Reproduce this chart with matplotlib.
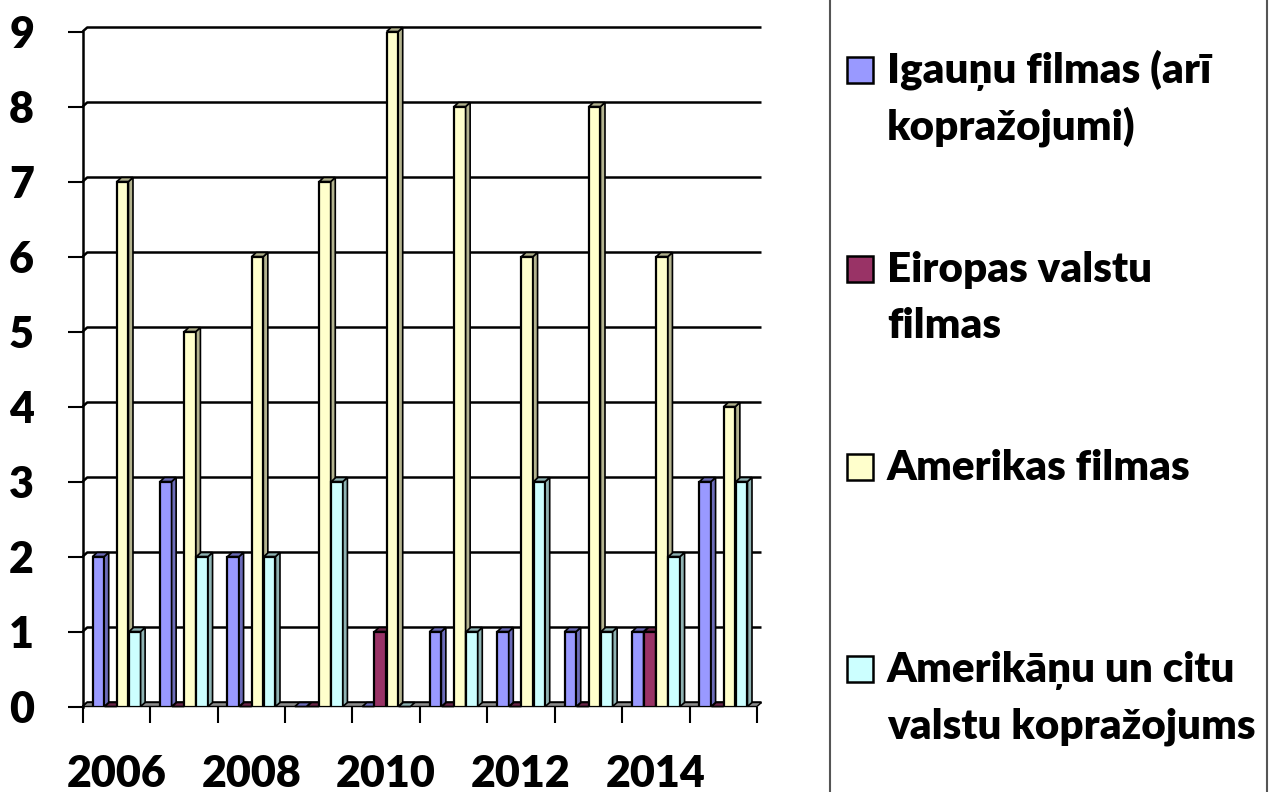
import matplotlib
matplotlib.use('Agg')
import matplotlib.pyplot as plt
from matplotlib.patches import Polygon, Rectangle
import numpy as np

plt.rcParams['font.family'] = ['Lato', 'DejaVu Sans']
plt.rcParams['font.weight'] = 'bold'

years = [2006, 2007, 2008, 2009, 2010, 2011, 2012, 2013, 2014, 2015]
igaunu = [2, 3, 2, 0, 0, 1, 1, 1, 1, 3]
eiropas = [0, 0, 0, 0, 1, 0, 0, 0, 1, 0]
amerikas = [7, 5, 6, 7, 9, 8, 6, 8, 6, 4]
amerikanu_citu = [1, 2, 2, 3, 0, 1, 3, 1, 2, 3]
series = [igaunu, eiropas, amerikas, amerikanu_citu]
legend_lines = [["Igauņu filmas (arī", "kopražojumi)"],
                ["Eiropas valstu", "filmas"],
                ["Amerikas filmas"],
                ["Amerikāņu un citu", "valstu kopražojums"]]
x_tick_labels = ['2006', '2008', '2010', '2012', '2014']
y_ticks = [0, 1, 2, 3, 4, 5, 6, 7, 8, 9]

front_colors = ['#9999FF', '#993366', '#FFFFCC', '#CCFFFF']
side_colors = ['#6B6BB8', '#6B2447', '#B3B38F', '#8FB3B3']

W, H = 1269, 792
fig = plt.figure(figsize=(W / 100, H / 100), dpi=100)
x0px, x1px = 82.7, 757.0
y0px, y9px = 706.5, 31.5
ax = fig.add_axes([x0px / W, 1 - y0px / H, (x1px - x0px) / W, (y0px - y9px) / H])
ax.set_xlim(0, len(years))
ax.set_ylim(0, 9)
for s in ax.spines.values():
    s.set_visible(False)
ax.patch.set_alpha(0)

ddx = 4.5 / 67.4
ddy = 4.0 / 75.0
n = len(years)

# back wall gridlines
for yv in y_ticks:
    ax.plot([0, ddx, n + ddx], [yv, yv + ddy, yv + ddy], color='black', lw=1.8,
            zorder=1, clip_on=False, solid_capstyle='butt')
# left wall line
ax.plot([0, 0], [0, 9], color='black', lw=1.8, zorder=1, clip_on=False)
# floor
floor = Polygon([(0, 0), (n, 0), (n + ddx, ddy), (ddx, ddy)], closed=True,
                facecolor='#8C8C8C', edgecolor='black', lw=1.0, zorder=2, clip_on=False)
ax.add_patch(floor)

start = 0.147
step = 0.18
bw = 0.172
for j, vals in enumerate(series):
    xs = np.arange(n) + start + j * step
    z = 3 + j
    ax.bar(xs, vals, width=bw, align='edge', color=front_colors[j],
           edgecolor='black', linewidth=1.6, zorder=z)
    for xl, h in zip(xs, vals):
        xr = xl + bw
        if h > 0:
            side = Polygon([(xr, 0), (xr, h), (xr + ddx, h + ddy), (xr + ddx, ddy)],
                           closed=True, facecolor=side_colors[j], edgecolor='black',
                           lw=1.2, zorder=z, clip_on=False)
            ax.add_patch(side)
        top = Polygon([(xl, h), (xr, h), (xr + ddx, h + ddy), (xl + ddx, h + ddy)],
                      closed=True, facecolor=side_colors[j], edgecolor='black',
                      lw=1.2, zorder=z, clip_on=False)
        ax.add_patch(top)

# ticks
ax.set_yticks(y_ticks)
ax.set_yticklabels([str(v) for v in y_ticks], fontsize=31, fontweight='heavy')
ax.tick_params(axis='y', direction='out', length=11, width=1.5, pad=24)
ax.set_xticks(np.arange(n + 1))
ax.set_xticklabels([])
ax.set_xticks(np.arange(0, n, 2) + 0.5, minor=True)
ax.set_xticklabels(x_tick_labels, minor=True, fontsize=31, fontweight='heavy')
ax.tick_params(axis='x', which='major', direction='out', length=11.5, width=1.5, color='black')
ax.tick_params(axis='x', which='minor', length=0, pad=34)

# legend box (drawn manually)
fig.add_artist(plt.Line2D([830 / W, 830 / W], [0, 1], color='#555555', lw=1.5))
fig.add_artist(plt.Line2D([1266.5 / W, 1266.5 / W], [0, 1], color='#555555', lw=1.5))
entry_baselines = [83, 282, 480, 682]
line_gap = 56.5
for k, lines in enumerate(legend_lines):
    b = entry_baselines[k]
    fig.add_artist(Rectangle((847 / W, 1 - b / H), 26 / W, 26 / H,
                             facecolor=front_colors[k], edgecolor='black', lw=1.8))
    for li, txt in enumerate(lines):
        fig.text(887 / W, 1 - (b + li * line_gap) / H, txt, fontsize=30.3,
                 fontweight='heavy', ha='left', va='baseline')

fig.savefig('out.png', dpi=100)
